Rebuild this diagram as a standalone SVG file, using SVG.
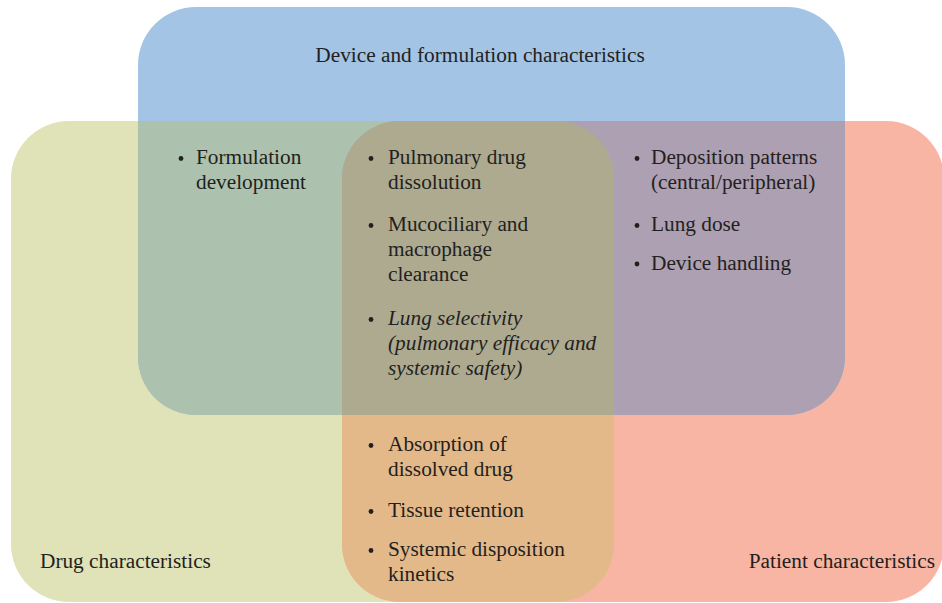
<svg xmlns="http://www.w3.org/2000/svg" xmlns:xlink="http://www.w3.org/1999/xlink" width="942" height="603" viewBox="0 0 942 603">
  <style>
    text { font-family: "Liberation Serif", "Times New Roman", serif; font-size: 21.3px; fill: #231f20; }
    .it { font-style: italic; }
    .dot { fill: #231f20; }
  </style>
  <defs>
    <rect id="rBlue" x="138" y="7" width="707" height="408" rx="58" ry="58"/>
    <rect id="rGreen" x="11" y="121" width="603" height="481" rx="58" ry="58"/>
    <rect id="rPink" x="342" y="121" width="602" height="481" rx="58" ry="58"/>
    <clipPath id="cBlue"><use xlink:href="#rBlue"/></clipPath>
    <clipPath id="cPink"><use xlink:href="#rPink"/></clipPath>
  </defs>

  <rect x="0" y="0" width="942" height="603" fill="#ffffff"/>

  <g id="set-drug">
    <use xlink:href="#rGreen" fill="#e0e2b8"/>
  </g>
  <g id="set-patient">
    <use xlink:href="#rPink" fill="#f9b5a3"/>
    <use xlink:href="#rGreen" fill="#e3b98a" clip-path="url(#cPink)"/>
  </g>
  <g id="set-device">
    <use xlink:href="#rBlue" fill="#a3c4e5"/>
    <g clip-path="url(#cBlue)">
      <use xlink:href="#rGreen" fill="#adc2ae"/>
      <use xlink:href="#rPink" fill="#ada0b2"/>
      <use xlink:href="#rGreen" fill="#adaa90" clip-path="url(#cPink)"/>
    </g>
  </g>

  <g id="connectors"></g>

  <g id="label-device">
    <text x="480" y="62" text-anchor="middle">Device and formulation characteristics</text>
  </g>
  <g id="label-drug">
    <text x="40" y="568">Drug characteristics</text>
  </g>
  <g id="label-patient">
    <text x="935" y="568" text-anchor="end">Patient characteristics</text>
  </g>

  <g id="list-device-drug">
    <circle class="dot" cx="181" cy="158.5" r="2.4"/>
    <text x="196" y="164">Formulation</text>
    <text x="196" y="189">development</text>
  </g>

  <g id="list-all-three">
    <circle class="dot" cx="371" cy="158.5" r="2.4"/>
    <text x="388" y="164">Pulmonary drug</text>
    <text x="388" y="189">dissolution</text>
    <circle class="dot" cx="371" cy="225.5" r="2.4"/>
    <text x="388" y="231">Mucociliary and</text>
    <text x="388" y="256">macrophage</text>
    <text x="388" y="281">clearance</text>
    <circle class="dot" cx="371" cy="319.5" r="2.4"/>
    <text class="it" x="388" y="325">Lung selectivity</text>
    <text class="it" x="388" y="350">(pulmonary efficacy and</text>
    <text class="it" x="388" y="375">systemic safety)</text>
  </g>

  <g id="list-device-patient">
    <circle class="dot" cx="637" cy="158.5" r="2.4"/>
    <text x="651" y="164">Deposition patterns</text>
    <text x="651" y="189">(central/peripheral)</text>
    <circle class="dot" cx="637" cy="225.5" r="2.4"/>
    <text x="651" y="231">Lung dose</text>
    <circle class="dot" cx="637" cy="264" r="2.4"/>
    <text x="651" y="269.5">Device handling</text>
  </g>

  <g id="list-drug-patient">
    <circle class="dot" cx="371" cy="445.5" r="2.4"/>
    <text x="388" y="451">Absorption of</text>
    <text x="388" y="476">dissolved drug</text>
    <circle class="dot" cx="371" cy="511.5" r="2.4"/>
    <text x="388" y="517">Tissue retention</text>
    <circle class="dot" cx="371" cy="550.5" r="2.4"/>
    <text x="388" y="556">Systemic disposition</text>
    <text x="388" y="581">kinetics</text>
  </g>
</svg>
